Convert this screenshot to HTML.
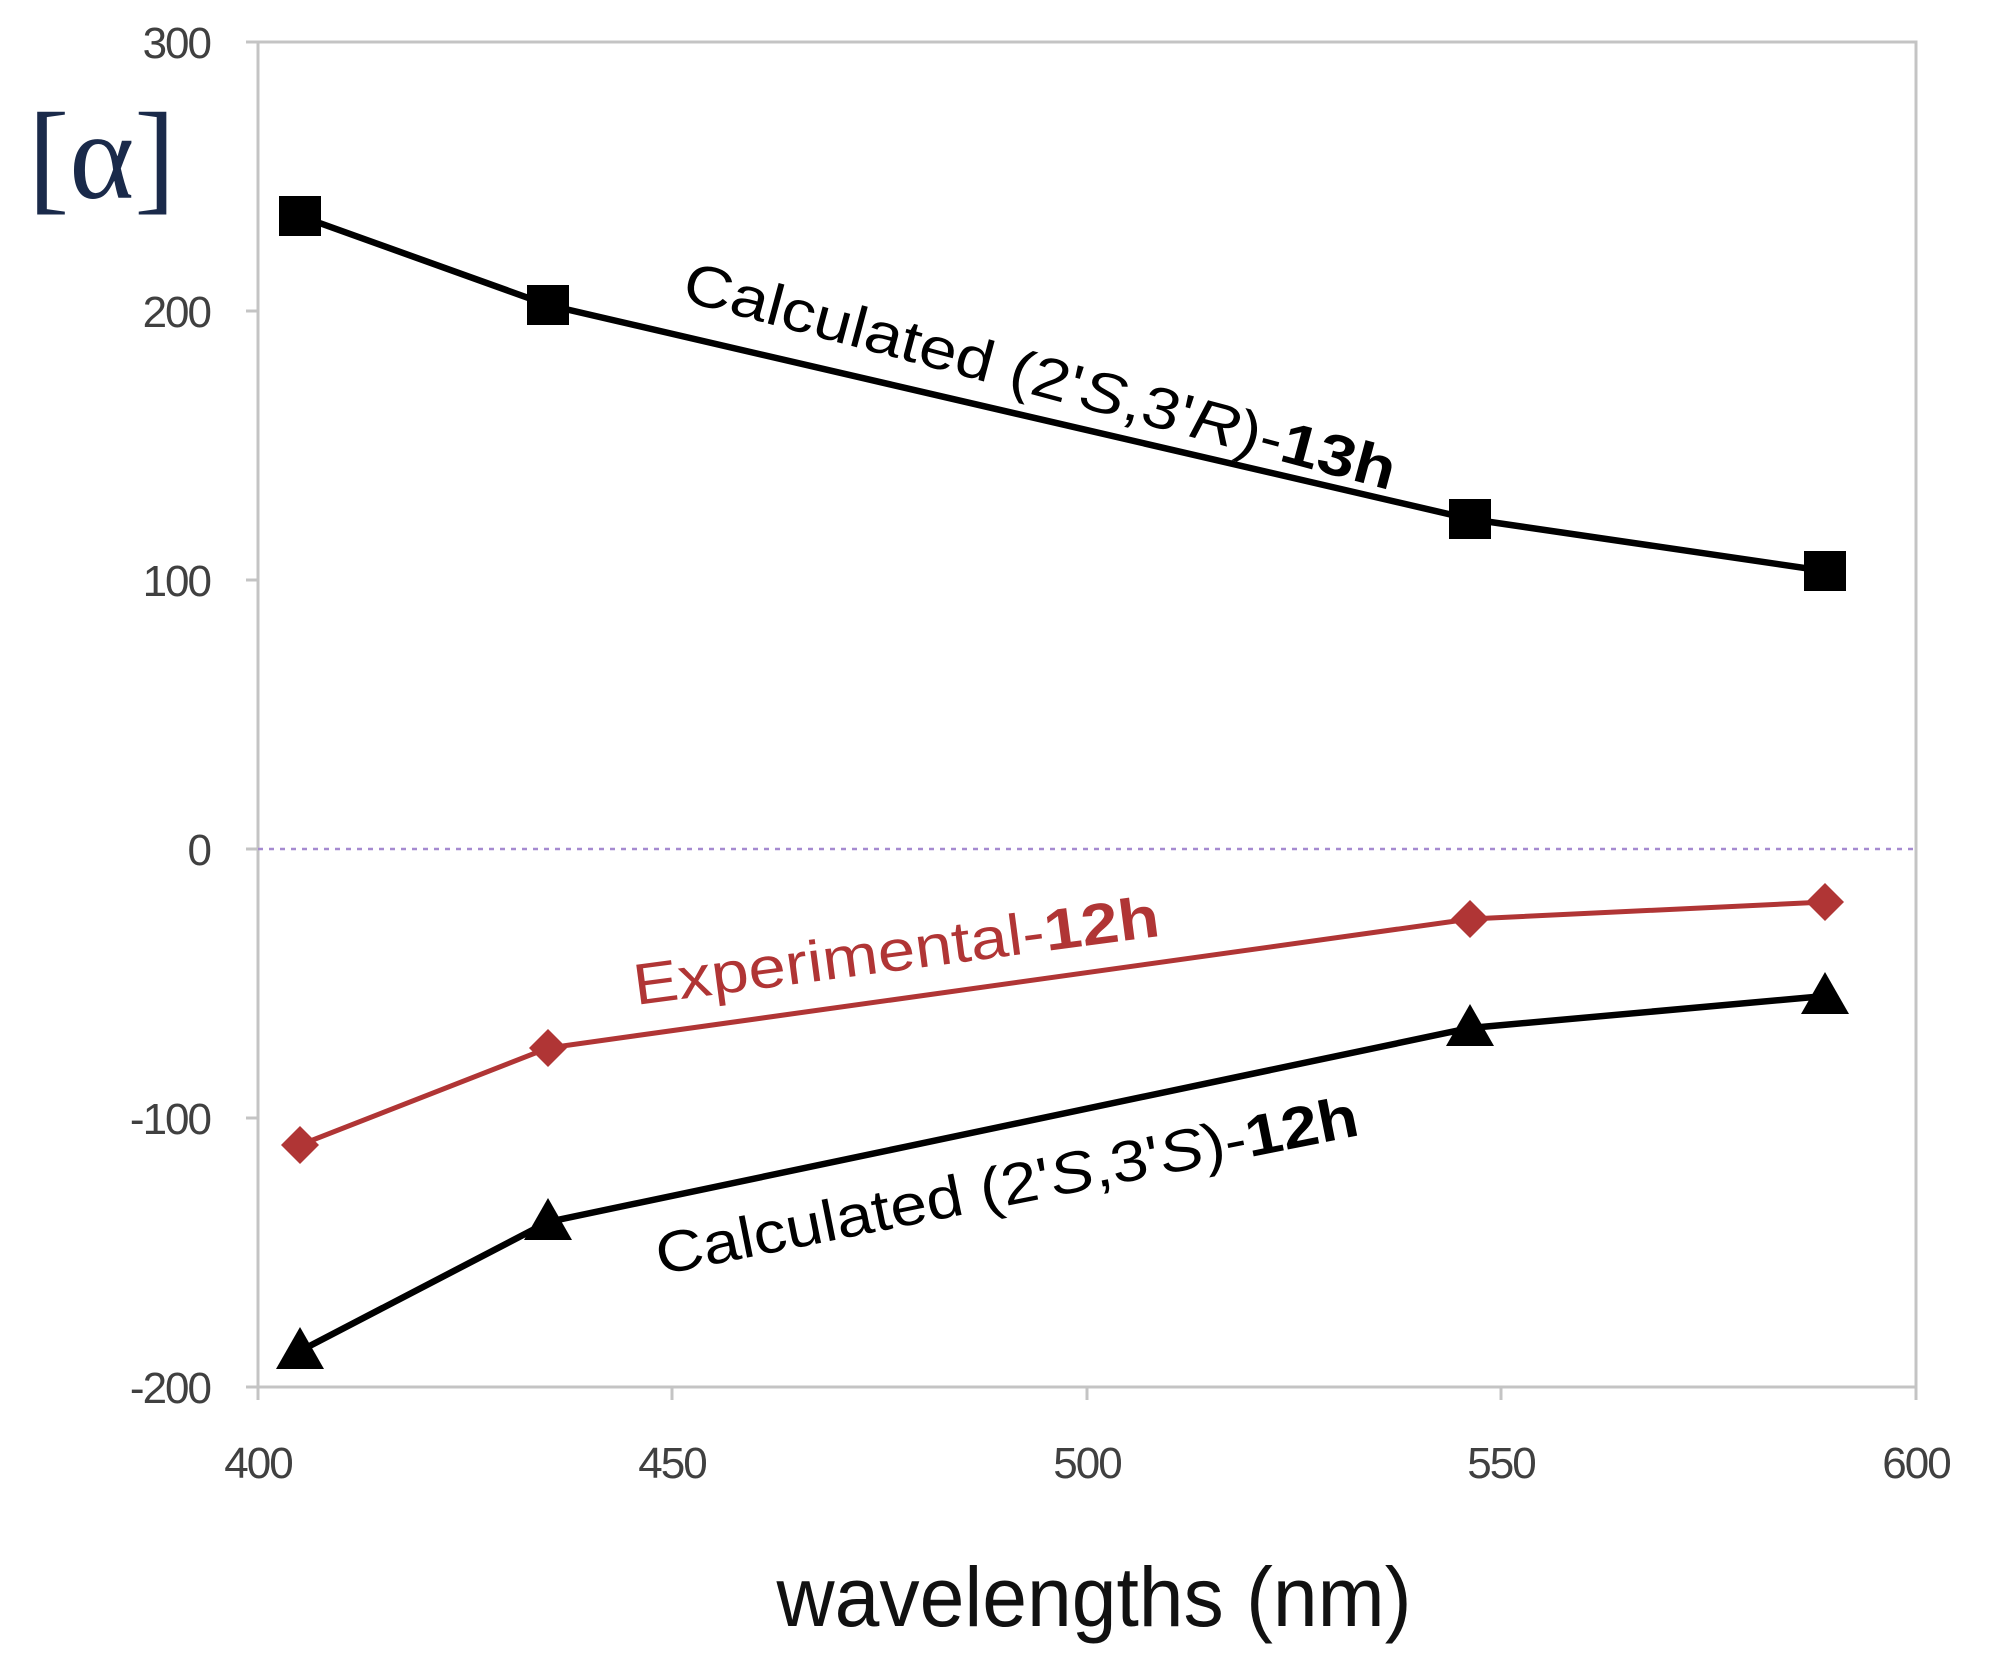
<!DOCTYPE html>
<html><head><meta charset="utf-8"><style>
html,body{margin:0;padding:0;background:#fff;}
svg{display:block;}
</style></head><body>
<svg width="1990" height="1677" viewBox="0 0 1990 1677" xmlns="http://www.w3.org/2000/svg">
<rect width="1990" height="1677" fill="#fff"/>
<g stroke="#c4c4c4" stroke-width="3" fill="none">
<path d="M258 42 H1916 V1387 H258 Z"/>
<path d="M246 42 H258 M246 311 H258 M246 580 H258 M246 849 H258 M246 1118 H258 M246 1387 H258"/>
<path d="M258 1387 V1400 M672 1387 V1400 M1087 1387 V1400 M1501 1387 V1400 M1916 1387 V1400"/>
</g>
<line x1="258" y1="849" x2="1916" y2="849" stroke="#a58ad0" stroke-width="2.5" stroke-dasharray="5,6"/>
<g font-family="Liberation Sans, sans-serif" font-size="44" fill="#404040" text-anchor="end" letter-spacing="-2">
<text x="210" y="58">300</text>
<text x="210" y="327">200</text>
<text x="210" y="596">100</text>
<text x="210" y="865">0</text>
<text x="210" y="1134">-100</text>
<text x="210" y="1403">-200</text>
</g>
<g font-family="Liberation Sans, sans-serif" font-size="44" fill="#404040" text-anchor="middle" letter-spacing="-2">
<text x="258" y="1478">400</text>
<text x="672" y="1478">450</text>
<text x="1087" y="1478">500</text>
<text x="1501" y="1478">550</text>
<text x="1916" y="1478">600</text>
</g>
<text x="28" y="198" font-family="Liberation Serif, serif" font-size="124" fill="#1a2a4a">[α]</text>
<text x="1094" y="1626" font-family="Liberation Sans, sans-serif" font-size="84" fill="#111" text-anchor="middle" textLength="635" lengthAdjust="spacingAndGlyphs">wavelengths (nm)</text>
<polyline points="300,216 548,305 1470,519 1825,571" fill="none" stroke="#000" stroke-width="6.5"/>
<g fill="#000">
<rect x="279" y="196" width="42" height="40"/>
<rect x="527" y="285" width="42" height="40"/>
<rect x="1449" y="499" width="42" height="40"/>
<rect x="1804" y="551" width="42" height="40"/>
</g>
<polyline points="300,1145 548,1048 1470,919 1825,902" fill="none" stroke="#b03535" stroke-width="5"/>
<g fill="#b03535">
<path d="M300 1126 L319 1145 L300 1164 L281 1145 Z"/>
<path d="M548 1029 L567 1048 L548 1067 L529 1048 Z"/>
<path d="M1470 900 L1489 919 L1470 938 L1451 919 Z"/>
<path d="M1825 883 L1844 902 L1825 921 L1806 902 Z"/>
</g>
<polyline points="300,1351 548,1222 1470,1028 1825,996" fill="none" stroke="#000" stroke-width="6.5"/>
<g fill="#000">
<path d="M300 1327 L324 1369 L276 1369 Z"/>
<path d="M548 1198 L572 1240 L524 1240 Z"/>
<path d="M1470 1004 L1494 1046 L1446 1046 Z"/>
<path d="M1825 972 L1849 1014 L1801 1014 Z"/>
</g>
<g font-family="Liberation Sans, sans-serif" font-size="58">
<text transform="translate(680,300) rotate(15)" fill="#000" textLength="735" lengthAdjust="spacingAndGlyphs">Calculated (2'<tspan font-style="italic">S</tspan>,3'<tspan font-style="italic">R</tspan>)-<tspan font-weight="bold">13h</tspan></text>
<text transform="translate(636,1005) rotate(-7.5)" fill="#b03535" textLength="530" lengthAdjust="spacingAndGlyphs">Experimental-<tspan font-weight="bold">12h</tspan></text>
<text transform="translate(660,1275) rotate(-11.3)" fill="#000" textLength="715" lengthAdjust="spacingAndGlyphs">Calculated (2'<tspan font-style="italic">S</tspan>,3'<tspan font-style="italic">S</tspan>)-<tspan font-weight="bold">12h</tspan></text>
</g>
</svg>
</body></html>
